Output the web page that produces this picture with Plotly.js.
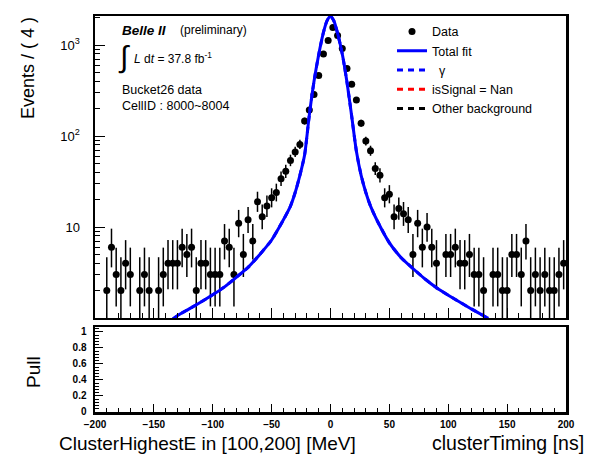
<!DOCTYPE html>
<html>
<head>
<meta charset="utf-8">
<script src="https://cdn.plot.ly/plotly-3.0.1.min.js"></script>
<style>
  body { margin: 0; background: #fff; }
  #plot { width: 596px; height: 462px; }
</style>
</head>
<body>
<div id="plot"></div>
<script>
// bin centres (width 4) that have entries, and the counts in them
const binCenters = [-190, -186, -182, -178, -174, -170, -162, -158, -154,
  -146, -142, -138, -134, -130, -126, -122, -118, -114, -110, -106, -102, -98, -94,
  -90, -86, -82, -78, -74, -70, -66, -62, -58, -54, -50, -46, -42, -38, -34, -30,
  -26, -22, -18, -14, -10, -6, -2, 2, 6, 10, 14, 18, 22, 26, 30, 34, 38, 42, 46,
  50, 54, 58, 62, 66, 70, 74, 78, 82, 86, 90, 98, 102, 106, 110, 114, 118, 122,
  126, 130, 138, 142, 146, 150, 154, 158, 162, 166, 170, 174, 178, 182, 186, 190,
  194, 198];
const counts = [2, 6, 3, 2, 4, 3, 2, 3, 2,
  2, 3, 4, 4, 4, 6, 5, 6, 2, 4, 4, 3, 3, 3,
  7, 6, 3, 11, 5, 12, 7, 19, 13, 17, 21, 24, 34, 41, 54, 67,
  81, 146, 193, 287, 464, 796, 1127, 1566, 1279, 920, 554, 372, 249, 138, 88, 69, 44, 37, 21,
  23, 13, 16, 14, 12, 5, 11, 6, 10, 6, 4, 5, 5, 6, 4, 4, 5, 3,
  3, 2, 3, 3, 2, 2, 5, 5, 3, 7, 2, 3, 2, 3, 2, 2,
  3, 4];

// fit curve
const fitX = [-134, -130, -120, -110, -100, -90, -80, -70, -60, -50, -40, -34, -30,
  -26, -22, -18, -14, -10, -6, -3, 0, 3, 6, 10, 14, 18, 22, 26, 30, 34, 40, 50,
  60, 70, 80, 90, 100, 110, 120, 130, 134];
const fitY = [0.97, 1.06, 1.26, 1.5, 1.8, 2.2, 2.8, 3.6, 5.0, 7.2, 12, 17, 24,
  37, 62, 170, 400, 790, 1380, 1850, 2080, 1830, 1350, 800, 390, 165, 68, 37, 24, 17, 11.5, 6.7,
  4.6, 3.5, 2.7, 2.15, 1.78, 1.49, 1.25, 1.06, 0.99];

const yTickVals = [10, 100, 1000];
const yTickText = ["10", "10<sup>2</sup>", "10<sup>3</sup>"];
const pullTickVals = [0, 0.2, 0.4, 0.6, 0.8, 1];
const pullTickText = ["0", "0.2", "0.4", "0.6", "0.8", "1"];

// poisson-like asymmetric errors, as ROOT draws them
const errHi = counts.map(n => Math.sqrt(n + 0.75) + 1);
const errLo = counts.map(n => Math.sqrt(n - 0.25));

const minorLog = [];
[1, 10, 100, 1000].forEach(d => {
  for (let k = 2; k <= 9; k++) minorLog.push(k * d);
});

const FONT = "Liberation Sans, Arial, sans-serif";
const BLUE = "#0000ff";

const traces = [
  {
    x: binCenters, y: counts, type: "scatter", mode: "markers", name: "Data",
    marker: {color: "black", size: 7},
    error_y: {type: "data", symmetric: false, array: errHi, arrayminus: errLo,
      color: "black", thickness: 1.5, width: 0}
  },
  {
    x: fitX, y: fitY, type: "scatter", mode: "lines", name: "Total fit",
    line: {color: BLUE, width: 3, shape: "spline", smoothing: 0.6}
  },
  {
    x: fitX, y: fitY, type: "scatter", mode: "lines", name: "\u00a0\u00a0γ",
    line: {color: BLUE, width: 3, dash: "6px,5px", shape: "spline", smoothing: 0.6}
  },
  // empty components: only their legend entries are visible
  {
    x: [null], y: [null], type: "scatter", mode: "lines", name: "isSignal = Nan",
    line: {color: "#ff0000", width: 3, dash: "6px,5px"}
  },
  {
    x: [null], y: [null], type: "scatter", mode: "lines", name: "Other background",
    line: {color: "black", width: 3, dash: "6px,5px"}
  },
  {
    x: [null], y: [null], type: "scatter", mode: "markers", xaxis: "x2", yaxis: "y2",
    showlegend: false
  }
];

const frame = {showline: true, mirror: true, linecolor: "black", linewidth: 2.5,
  showgrid: false, zeroline: false, ticks: "inside", tickcolor: "black", tickwidth: 1};

const layout = {
  width: 596, height: 462,
  margin: {l: 95, r: 30, t: 16, b: 50},
  paper_bgcolor: "white", plot_bgcolor: "white",
  font: {family: FONT, color: "black"},
  showlegend: true,
  legend: {x: 0.6306, y: 0.998, xanchor: "left", yanchor: "top",
    bgcolor: "rgba(0,0,0,0)", font: {size: 12.5, family: FONT}},
  xaxis: Object.assign({}, frame, {
    domain: [0, 1], anchor: "y", range: [-200, 200], showticklabels: false,
    tick0: 0, dtick: 50, ticklen: 10,
    minor: {ticks: "inside", dtick: 10, ticklen: 5, tickcolor: "black"}
  }),
  yaxis: Object.assign({}, frame, {
    domain: [0.2374, 1], anchor: "x", type: "log", range: [0, 3.32],
    tickmode: "array", tickvals: yTickVals, ticktext: yTickText, ticklen: 10,
    tickfont: {size: 13}, ticklabelstandoff: 10,
    minor: {ticks: "inside", tickvals: minorLog, ticklen: 5, tickcolor: "black"}
  }),
  xaxis2: Object.assign({}, frame, {
    domain: [0, 1], anchor: "y2", range: [-200, 200],
    tick0: 0, dtick: 50, ticklen: 8,
    tickfont: {size: 10, weight: "bold"}, ticklabelstandoff: 1,
    minor: {ticks: "inside", dtick: 10, ticklen: 4, tickcolor: "black"}
  }),
  yaxis2: Object.assign({}, frame, {
    domain: [0, 0.2146], anchor: "x2", range: [0, 1.06],
    tickmode: "array", tickvals: pullTickVals, ticktext: pullTickText, ticklen: 8,
    tickfont: {size: 10, weight: "bold"}, ticklabelstandoff: 4,
    minor: {ticks: "inside", dtick: 0.04, tick0: 0, ticklen: 4, tickcolor: "black"}
  }),
  annotations: [
    {text: "<b><i>Belle II</i></b>", x: 0.0531, y: 0.9646, size: 13.5},
    {text: "(preliminary)", x: 0.1762, y: 0.9646, size: 12},
    {text: "∫", x: 0.044, y: 0.896, size: 30},
    {text: "<i>L</i> d<i>t</i> = 37.8 fb<sup>-1</sup>", x: 0.0787, y: 0.894, size: 12},
    {text: "Bucket26 data", x: 0.0531, y: 0.8131, size: 12.5},
    {text: "CellID : 8000~8004", x: 0.0531, y: 0.7727, size: 12.5},
    {text: "Events / ( 4 )", x: -0.1423, y: 1.0025, size: 18, angle: -90, xa: "center", ya: "top"},
    {text: "Pull", x: -0.1316, y: 0.101, size: 19, angle: -90, xa: "center"},
    {text: "ClusterHighestE in [100,200] [MeV]", x: -0.0806, y: -0.0783, size: 19},
    {text: "clusterTiming [ns]", x: 1.0425, y: -0.0783, size: 19.5, xa: "right"}
  ].map(a => ({
    text: a.text, xref: "paper", yref: "paper", x: a.x, y: a.y,
    xanchor: a.xa || "left", yanchor: a.ya || "middle",
    textangle: a.angle || 0, showarrow: false,
    font: {family: FONT, size: a.size, color: "black"}
  }))
};

Plotly.newPlot("plot", traces, layout, {staticPlot: true});
</script>
</body>
</html>
